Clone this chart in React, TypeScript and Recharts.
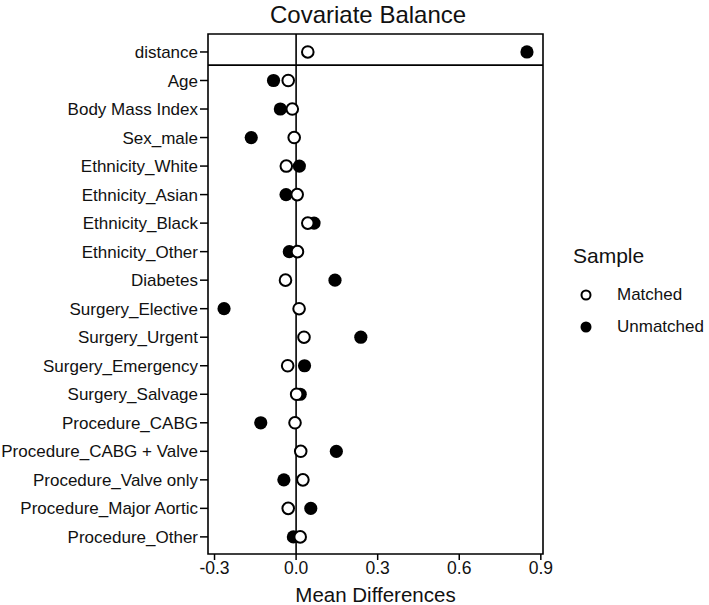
import React from 'react';
import { ScatterChart, Scatter, XAxis, YAxis, ReferenceLine, ReferenceArea } from 'recharts';

const covariates = [
  'distance',
  'Age',
  'Body Mass Index',
  'Sex_male',
  'Ethnicity_White',
  'Ethnicity_Asian',
  'Ethnicity_Black',
  'Ethnicity_Other',
  'Diabetes',
  'Surgery_Elective',
  'Surgery_Urgent',
  'Surgery_Emergency',
  'Surgery_Salvage',
  'Procedure_CABG',
  'Procedure_CABG + Valve',
  'Procedure_Valve only',
  'Procedure_Major Aortic',
  'Procedure_Other',
];

const matched = [
  0.043, -0.029, -0.014, -0.007, -0.036, 0.004, 0.043, 0.005, -0.039,
  0.011, 0.029, -0.031, 0.002, -0.004, 0.017, 0.025, -0.029, 0.015,
];

const unmatched = [
  0.849, -0.083, -0.058, -0.165, 0.012, -0.037, 0.066, -0.025, 0.143,
  -0.265, 0.238, 0.031, 0.015, -0.13, 0.148, -0.045, 0.054, -0.01,
];

const xTicks = [-0.3, 0, 0.3, 0.6, 0.9];

const legendItems = [
  { label: 'Matched', open: true },
  { label: 'Unmatched', open: false },
];

const matchedData = covariates.map((name, i) => ({ name, x: matched[i], y: i }));
const unmatchedData = covariates.map((name, i) => ({ name, x: unmatched[i], y: i }));

const X_MIN = -0.324;
const X_MAX = 0.908;
const Y_MIN = -0.63;
const Y_MAX = 17.6;
const FONT = 'Liberation Sans, Arial, sans-serif';
const INK = '#111';

const OpenDot = (props: any) => (
  <circle cx={props.cx} cy={props.cy} r={5.8} fill="#fff" stroke="#000" strokeWidth={2} />
);

const FilledDot = (props: any) => <circle cx={props.cx} cy={props.cy} r={6.6} fill="#000" />;

const SampleLegend = () => (
  <div style={{ position: 'absolute', left: 573, top: 243, fontFamily: FONT, color: INK }}>
    <div style={{ fontSize: 21, lineHeight: '26px', marginBottom: 10 }}>Sample</div>
    {legendItems.map((item) => (
      <div key={item.label} style={{ display: 'flex', alignItems: 'center', height: 32, fontSize: 17 }}>
        <svg width={44} height={20}>
          {item.open ? (
            <circle cx={13} cy={10} r={4.5} fill="#fff" stroke="#000" strokeWidth={2} />
          ) : (
            <circle cx={13} cy={10} r={5.5} fill="#000" />
          )}
        </svg>
        <span>{item.label}</span>
      </div>
    ))}
  </div>
);

export default function App() {
  return (
    <div style={{ position: 'absolute', left: 0, top: 0, width: 709, height: 605, background: '#fff' }}>
      <div
        style={{
          position: 'absolute',
          left: 270,
          top: 1,
          fontFamily: FONT,
          fontSize: 24,
          lineHeight: '27px',
          color: INK,
          whiteSpace: 'nowrap',
        }}
      >
        Covariate Balance
      </div>
      <ScatterChart width={709} height={605} margin={{ top: 34, right: 166, bottom: 0, left: 0 }}>
        <XAxis
          type="number"
          dataKey="x"
          domain={[X_MIN, X_MAX]}
          ticks={xTicks}
          allowDataOverflow
          tickFormatter={(v: number) => v.toFixed(1)}
          tick={{ fill: INK, fontSize: 17.5, fontFamily: FONT }}
          tickSize={6}
          axisLine={false}
          tickLine={{ stroke: '#000', strokeWidth: 1.5 }}
          height={51}
          label={{ value: 'Mean Differences', position: 'insideBottom', offset: 3, fill: INK, fontSize: 20.5, fontFamily: FONT }}
        />
        <YAxis
          type="number"
          dataKey="y"
          domain={[Y_MIN, Y_MAX]}
          ticks={covariates.map((_, i) => i)}
          reversed
          allowDataOverflow
          interval={0}
          tickFormatter={(v: number) => covariates[v] ?? ''}
          tick={{ fill: INK, fontSize: 17, fontFamily: FONT }}
          tickSize={8}
          axisLine={false}
          tickLine={{ stroke: '#000', strokeWidth: 1.5 }}
          width={208}
        />
        <ReferenceArea
          x1={X_MIN}
          x2={X_MAX}
          y1={Y_MIN}
          y2={Y_MAX}
          fill="none"
          stroke="#000"
          strokeWidth={1.6}
          ifOverflow="visible"
        />
        <ReferenceLine y={0.46} stroke="#000" strokeWidth={1.6} />
        <ReferenceLine x={0} stroke="#000" strokeWidth={1.6} />
        <Scatter name="Unmatched" data={unmatchedData} shape={FilledDot} isAnimationActive={false} />
        <Scatter name="Matched" data={matchedData} shape={OpenDot} isAnimationActive={false} />
      </ScatterChart>
      <SampleLegend />
    </div>
  );
}
